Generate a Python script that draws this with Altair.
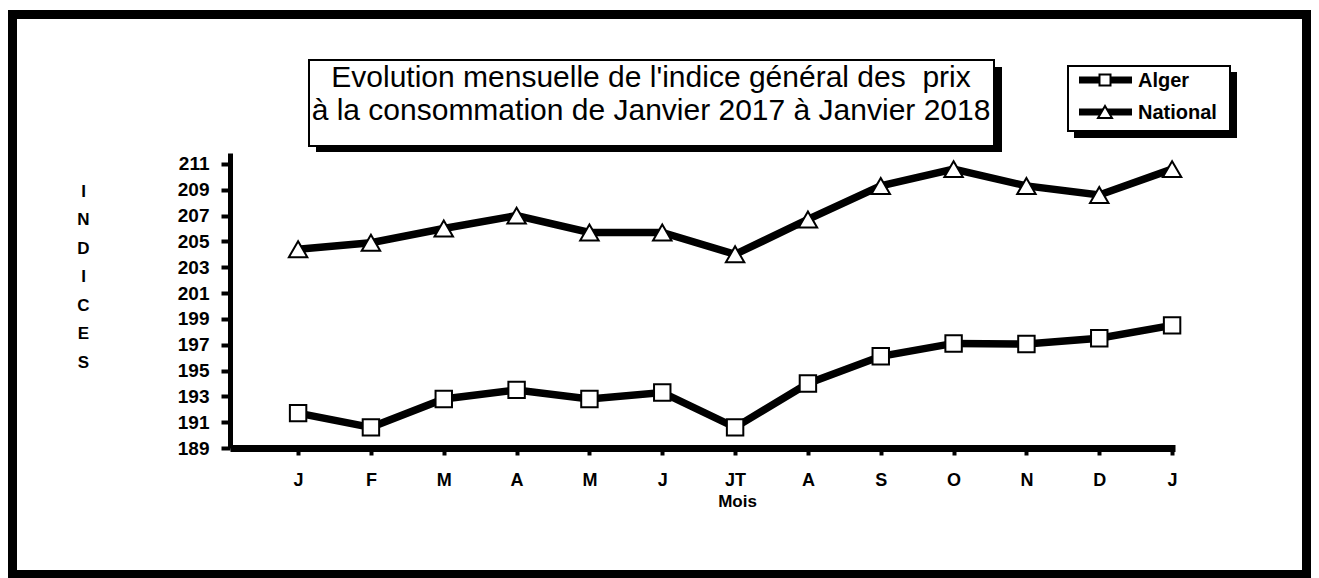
import altair as alt
import pandas as pd

# ---- data ----
months = ["J", "F", "M", "A", "M", "J", "JT", "A", "S", "O", "N", "D", "J"]
alger = [191.7, 190.6, 192.8, 193.5, 192.8, 193.3, 190.6, 194.0, 196.1, 197.1, 197.05, 197.5, 198.5]
national = [204.4, 204.9, 206.0, 207.0, 205.7, 205.7, 204.0, 206.7, 209.3, 210.6, 209.3, 208.6, 210.6]
series = ["Alger", "National"]
series_shapes = ["square", "triangle-up"]
y_ticks = list(range(189, 212, 2))
title_lines = ["Evolution mensuelle de l'indice général des \u00a0prix",
               "à la consommation de Janvier 2017 à Janvier 2018"]
y_title = list("INDICES")
x_title = "Mois"

rows = []
for i, m in enumerate(months):
    rows.append({"idx": i, "mois": m, "serie": series[0], "indice": alger[i]})
    rows.append({"idx": i, "mois": m, "serie": series[1], "indice": national[i]})
df = pd.DataFrame(rows)

FONT = "Liberation Sans"
label_expr = "[" + ",".join("'%s'" % m for m in months) + "][datum.value]"

x_enc = alt.X(
    "idx:Q",
    scale=alt.Scale(domain=[-0.935, 12.04], nice=False, zero=False),
    axis=alt.Axis(
        values=list(range(len(months))), labelExpr=label_expr, title=x_title,
        domainColor="black", domainWidth=7, tickColor="black", tickWidth=4, tickSize=7,
        labelFont=FONT, labelFontSize=18, labelFontWeight="bold", labelColor="black",
        labelPadding=16, grid=False,
        titleFont=FONT, titleFontSize=17, titleFontWeight="bold", titleColor="black",
        titleX=507, titleY=53, titleAlign="center", titleBaseline="middle",
    ),
)
y_enc = alt.Y(
    "indice:Q",
    scale=alt.Scale(domain=[189, 211.85], nice=False, zero=False),
    axis=alt.Axis(
        values=y_ticks, title=y_title,
        domainColor="black", domainWidth=5, tickColor="black", tickWidth=4, tickSize=9,
        labelFont=FONT, labelFontSize=19, labelFontWeight="bold", labelColor="black",
        labelPadding=12, grid=False,
        titleFont=FONT, titleFontSize=17, titleFontWeight="bold", titleColor="black",
        titleAngle=0, titleX=-147, titleY=30, titleAlign="center", titleBaseline="top",
        titleLineHeight=28.5,
    ),
)

base = alt.Chart(df)
lines = base.mark_line(color="black", strokeWidth=7.5).encode(x=x_enc, y=y_enc, detail="serie:N")
points = base.mark_point(filled=True, fill="white", stroke="black", strokeWidth=2, opacity=1).encode(
    x=x_enc, y=y_enc,
    shape=alt.Shape("serie:N", scale=alt.Scale(domain=series, range=series_shapes), legend=None),
    size=alt.Size("serie:N", scale=alt.Scale(domain=series, range=[270, 340]), legend=None),
)

one = alt.Chart(pd.DataFrame({"k": [0]}))

def rect(x1, x2, y1, y2, **kw):
    return one.mark_rect(**kw).encode(x=alt.value(x1), x2=alt.value(x2), y=alt.value(y1), y2=alt.value(y2))

# outer frame
frame = rect(-217.5, 1076.5, -138.5, 421.5, fillOpacity=0, stroke="black", strokeWidth=9)

# title box with shadow
title_shadow = rect(86, 772, -86, -1, fill="black")
title_box = rect(79, 764, -93, -7, fill="white", stroke="black", strokeWidth=2)
title_text = one.mark_text(text=title_lines, font=FONT, fontSize=30, color="black",
                           align="center", baseline="alphabetic", lineHeight=33).encode(
    x=alt.value(421), y=alt.value(-66))

# legend box with shadow
leg_shadow = rect(844, 1007, -81, -15, fill="black")
leg_box = rect(838, 1000, -87, -22, fill="white", stroke="black", strokeWidth=2)
leg_layers = []
leg_y = [-73, -41]
leg_sizes = [121, 196]
for name, shp, yy, sz in zip(series, series_shapes, leg_y, leg_sizes):
    leg_layers.append(one.mark_rule(color="black", strokeWidth=7).encode(
        x=alt.value(849), x2=alt.value(902), y=alt.value(yy)))
    leg_layers.append(one.mark_point(shape=shp, size=sz, filled=True, fill="white", stroke="black",
                                     strokeWidth=2, opacity=1).encode(x=alt.value(875), y=alt.value(yy)))
    leg_layers.append(one.mark_text(text=name, font=FONT, fontSize=20, fontWeight="bold", color="black",
                                    align="left", baseline="middle").encode(
        x=alt.value(908), y=alt.value(yy + 1)))

chart = alt.layer(
    frame, title_shadow, title_box, title_text, leg_shadow, leg_box, *leg_layers, lines, points
).properties(
    width=945, height=295,
    padding={"left": 222, "top": 145, "right": 136, "bottom": 130},
    autosize=alt.AutoSizeParams(type="none"),
    background="white",
).configure_view(stroke=None)

chart.save("out.html", embed_options={"renderer": "svg", "actions": False})
